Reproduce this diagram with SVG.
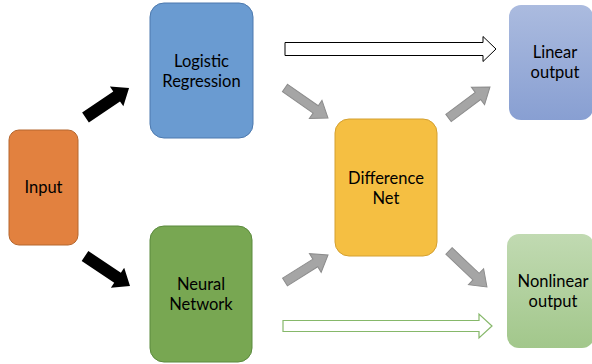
<svg xmlns="http://www.w3.org/2000/svg" width="592" height="364" viewBox="0 0 592 364">
<defs>
<linearGradient id="gLin" x1="0" y1="0" x2="0" y2="1">
<stop offset="0" stop-color="#ABBBDF"/>
<stop offset="1" stop-color="#889FD2"/>
</linearGradient>
<linearGradient id="gNon" x1="0" y1="0" x2="0" y2="1">
<stop offset="0" stop-color="#C1DAB2"/>
<stop offset="1" stop-color="#A2C78B"/>
</linearGradient>
<style>
.lbl{font-family:Lato,"Liberation Sans",sans-serif;font-size:16.5px;fill:#000;text-anchor:middle}
.blk{fill:#000;stroke:none}
.gry{fill:#A5A5A5;stroke:#8C8C8C;stroke-width:1}
</style>
</defs>
<rect width="592" height="364" fill="#fff"/>
<g id="input">
<rect x="9" y="130" width="69" height="115" rx="10" fill="#E2813F" stroke="#B5662E" stroke-width="1"/>
<text class="lbl" x="43.5" y="193">Input</text>
</g>
<g id="logistic-regression">
<rect x="150" y="3" width="103" height="135" rx="14" fill="#6A9BD1" stroke="#4C79AE" stroke-width="1"/>
<text class="lbl" x="201.5" y="67">Logistic</text>
<text class="lbl" x="201.5" y="87">Regression</text>
</g>
<g id="neural-network">
<rect x="150" y="226" width="102" height="136" rx="14" fill="#78A752" stroke="#5A8A3C" stroke-width="1"/>
<text class="lbl" x="201" y="290">Neural</text>
<text class="lbl" x="201" y="310">Network</text>
</g>
<g id="difference-net">
<rect x="335" y="119" width="102" height="137" rx="14" fill="#F5BF42" stroke="#D4A030" stroke-width="1"/>
<text class="lbl" x="386" y="184">Difference</text>
<text class="lbl" x="386" y="204">Net</text>
</g>
<g id="linear-output">
<rect x="509" y="5" width="84" height="115" rx="12" fill="url(#gLin)"/>
<text class="lbl" x="555" y="58">Linear</text>
<text class="lbl" x="555" y="78">output</text>
</g>
<g id="nonlinear-output">
<rect x="507" y="234" width="87" height="114" rx="12" fill="url(#gNon)"/>
<text class="lbl" x="553" y="287">Nonlinear</text>
<text class="lbl" x="553" y="307">output</text>
</g>
<g id="connectors">
<polygon class="blk" points="0,-6 37.6,-6 37.6,-12 52.6,0 37.6,12 37.6,6 0,6" transform="translate(85.5,117.5) rotate(-34.1)"/>
<polygon class="blk" points="0,-6 39.1,-6 39.1,-12 54.1,0 39.1,12 39.1,6 0,6" transform="translate(85,256) rotate(33.7)"/>
<polygon class="gry" points="0,-4.5 37.4,-4.5 37.4,-11 52.4,0 37.4,11 37.4,4.5 0,4.5" transform="translate(285,88) rotate(34.9)"/>
<polygon class="gry" points="0,-4.5 36.8,-4.5 36.8,-11 51.8,0 36.8,11 36.8,4.5 0,4.5" transform="translate(448.5,118) rotate(-36.8)"/>
<polygon class="gry" points="0,-4.5 35.8,-4.5 35.8,-11 50.8,0 35.8,11 35.8,4.5 0,4.5" transform="translate(285,282) rotate(-32.1)"/>
<polygon class="gry" points="0,-4.5 37.3,-4.5 37.3,-11 52.3,0 37.3,11 37.3,4.5 0,4.5" transform="translate(449,251) rotate(43.5)"/>
<polygon points="285,42.5 483,42.5 483,36.5 496,49 483,61.5 483,55.5 285,55.5" fill="#fff" stroke="#000" stroke-width="1"/>
<polygon points="283,320.5 479,320.5 479,314 492,326 479,338 479,331.5 283,331.5" fill="#fff" stroke="#86B86A" stroke-width="1.2"/>
</g>
</svg>
